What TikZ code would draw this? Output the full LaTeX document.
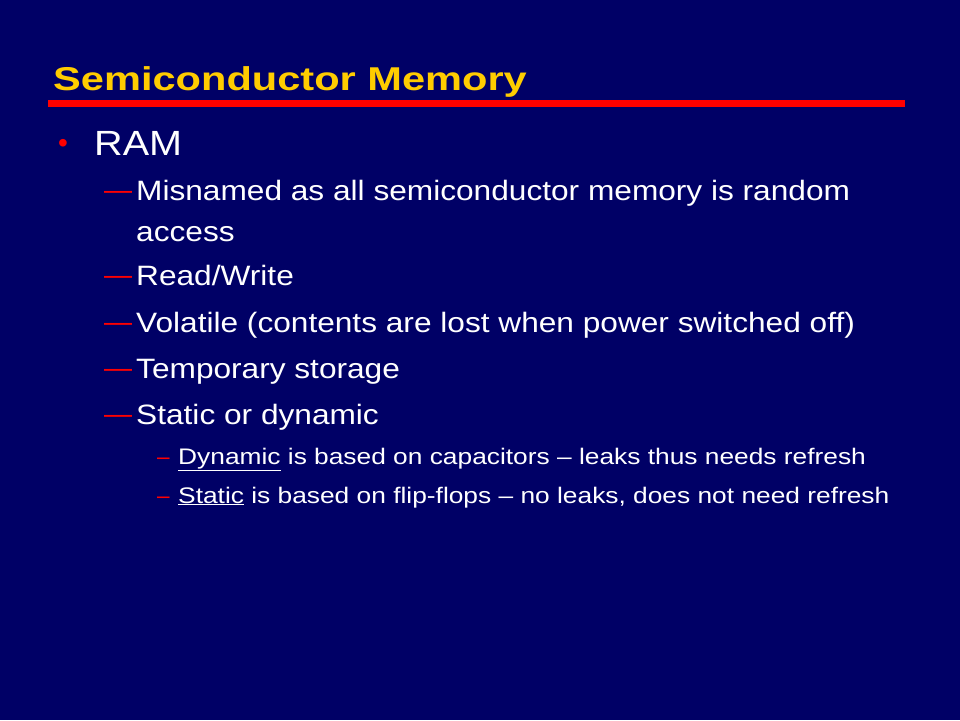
\documentclass[tikz,border=0pt]{standalone}
\usepackage{fontspec}
\setmainfont{Liberation Sans}
\newfontfamily\ttlfont[FakeStretch=1.26]{Liberation Sans}
\newfontfamily\bodyfont[FakeStretch=1.13]{Liberation Sans}
\newfontfamily\smallfont[FakeStretch=1.17]{Liberation Sans}
\definecolor{bg}{HTML}{000066}
\definecolor{ttl}{HTML}{FFCC00}
\definecolor{rd}{HTML}{FF0000}
\begin{document}
\begin{tikzpicture}[x=1pt,y=-1pt,
  t/.style={anchor=base west,inner sep=0pt,text=white},
  l1/.style={t,font=\bodyfont\fontsize{35}{40}\selectfont},
  l2/.style={t,font=\bodyfont\fontsize{28}{32}\selectfont},
  l3/.style={t,font=\smallfont\fontsize{22.5}{26}\selectfont},
  mk/.style={anchor=base west,inner sep=0pt,text=rd}]
\fill[bg] (0,0) rectangle (960,720);
\useasboundingbox (0,0) rectangle (960,720);
\node[anchor=base west,inner sep=0pt,text=ttl,font=\ttlfont\bfseries\fontsize{33}{38}\selectfont] (title) at (53,90) {Semiconductor Memory};
\fill[rd] (48,100) rectangle (905,107);
\node[mk,font=\fontsize{28}{32}\selectfont] (b1) at (58,152) {•};
\node[l1] (ram) at (94,155) {RAM};
\node[mk,font=\fontsize{28}{32}\selectfont] (d1) at (104,199) {—};
\node[l2] (a1) at (136,200) {Misnamed as all semiconductor memory is random};
\node[l2] (a1b) at (136,241) {access};
\node[mk,font=\fontsize{28}{32}\selectfont] (d2) at (104,284) {—};
\node[l2] (a2) at (136,285) {Read/Write};
\node[mk,font=\fontsize{28}{32}\selectfont] (d3) at (104,331) {—};
\node[l2] (a3) at (136,332) {Volatile (contents are lost when power switched off)};
\node[mk,font=\fontsize{28}{32}\selectfont] (d4) at (104,377) {—};
\node[l2] (a4) at (136,378) {Temporary storage};
\node[mk,font=\fontsize{28}{32}\selectfont] (d5) at (104,423) {—};
\node[l2] (a5) at (136,424) {Static or dynamic};
\node[mk,font=\fontsize{22.5}{26}\selectfont] (e1) at (157,464) {–};
\node[l3] (c1) at (178,464) {\underline{Dynamic} is based on capacitors – leaks thus needs refresh};
\node[mk,font=\fontsize{22.5}{26}\selectfont] (e2) at (157,503) {–};
\node[l3] (c2) at (178,503) {\underline{Static} is based on flip-flops – no leaks, does not need refresh};
\end{tikzpicture}
\end{document}
